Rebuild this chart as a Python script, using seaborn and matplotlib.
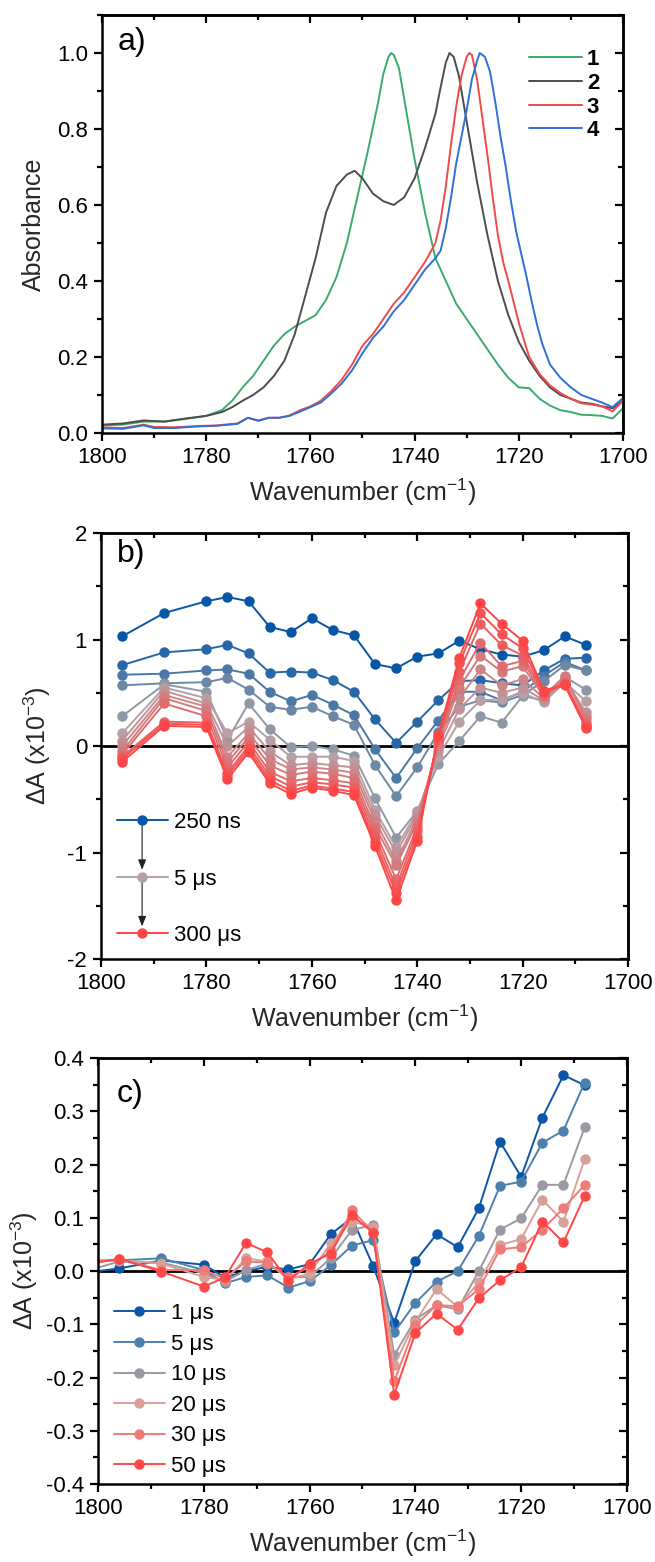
import numpy as np
import pandas as pd
import matplotlib
matplotlib.use("Agg")
import matplotlib.pyplot as plt
from matplotlib.lines import Line2D
from matplotlib.ticker import MultipleLocator, FormatStrFormatter
import seaborn as sns

# ---------------- panel a: normalised FTIR spectra ----------------
wn_1 = [1800, 1796, 1792, 1788, 1784, 1780, 1777, 1775, 1773, 1771, 1769, 1767, 1765, 1763,
        1761, 1759, 1757, 1755, 1753, 1751, 1749, 1747, 1746, 1745, 1744.5, 1744, 1743, 1742,
        1740, 1738, 1736, 1734, 1732, 1730, 1728, 1726, 1724, 1722, 1720, 1718, 1716, 1714,
        1712, 1710, 1708, 1706, 1704, 1702, 1700]
abs_1 = [0.020, 0.022, 0.030, 0.030, 0.037, 0.045, 0.060, 0.085, 0.120, 0.150, 0.190, 0.230,
         0.260, 0.280, 0.295, 0.310, 0.350, 0.410, 0.500, 0.620, 0.740, 0.870, 0.945, 0.990,
         1.000, 0.995, 0.960, 0.880, 0.720, 0.580, 0.460, 0.400, 0.340, 0.300, 0.260, 0.220,
         0.180, 0.145, 0.120, 0.118, 0.090, 0.072, 0.060, 0.055, 0.048, 0.047, 0.045, 0.038,
         0.065]

wn_2 = [1800, 1796, 1792, 1788, 1784, 1780, 1777, 1775, 1773, 1771, 1769, 1767, 1765, 1763,
        1761, 1759, 1757, 1755, 1753, 1751.5, 1750, 1748, 1746, 1744, 1742, 1740, 1738, 1736,
        1735, 1734, 1733.3, 1732.5, 1731.5, 1730, 1728, 1726, 1724, 1722, 1720, 1718, 1716,
        1714, 1712, 1710, 1708, 1706, 1704, 1702, 1700]
abs_2 = [0.022, 0.025, 0.033, 0.030, 0.038, 0.045, 0.055, 0.068, 0.085, 0.100, 0.120, 0.150,
         0.190, 0.260, 0.360, 0.460, 0.580, 0.650, 0.680, 0.690, 0.670, 0.630, 0.610, 0.600,
         0.620, 0.670, 0.750, 0.840, 0.910, 0.975, 1.000, 0.990, 0.940, 0.820, 0.660, 0.520,
         0.400, 0.310, 0.240, 0.190, 0.150, 0.120, 0.100, 0.090, 0.080, 0.077, 0.070, 0.065,
         0.085]

wn_3 = [1800, 1796, 1792, 1790, 1786, 1782, 1778, 1774, 1772, 1770, 1768, 1766, 1764, 1762,
        1760, 1758, 1756, 1754, 1752, 1750, 1748, 1746, 1744, 1742, 1740, 1738, 1736, 1735,
        1734, 1733, 1732, 1731, 1730, 1729.5, 1729, 1728, 1727, 1726, 1725, 1724, 1723, 1722,
        1720, 1718, 1716, 1714, 1712, 1710, 1708, 1706, 1704, 1702, 1700]
abs_3 = [0.015, 0.013, 0.022, 0.016, 0.015, 0.018, 0.020, 0.025, 0.040, 0.033, 0.040, 0.040,
         0.046, 0.060, 0.070, 0.085, 0.110, 0.140, 0.180, 0.230, 0.260, 0.300, 0.340, 0.370,
         0.410, 0.450, 0.500, 0.560, 0.650, 0.760, 0.860, 0.940, 0.990, 1.000, 0.995, 0.930,
         0.830, 0.730, 0.620, 0.520, 0.450, 0.400, 0.290, 0.200, 0.155, 0.125, 0.105, 0.090,
         0.078, 0.075, 0.070, 0.057, 0.085]

wn_4 = [1800, 1796, 1792, 1790, 1786, 1782, 1778, 1774, 1772, 1770, 1768, 1766, 1764, 1762,
        1760, 1758, 1756, 1754, 1752, 1750, 1748, 1746, 1744, 1742, 1740, 1738, 1736, 1735,
        1734, 1733, 1732, 1731, 1730, 1729, 1728, 1727.5, 1726.5, 1725.5, 1724.5, 1723.5,
        1722.5, 1721.5, 1720.5, 1719.5, 1718.5, 1717.5, 1716.5, 1715.5, 1714, 1712, 1710,
        1708, 1706, 1704, 1702, 1700]
abs_4 = [0.012, 0.011, 0.020, 0.013, 0.013, 0.017, 0.019, 0.024, 0.040, 0.032, 0.040, 0.040,
         0.045, 0.056, 0.068, 0.080, 0.104, 0.130, 0.165, 0.210, 0.250, 0.280, 0.320, 0.350,
         0.390, 0.430, 0.460, 0.480, 0.540, 0.620, 0.710, 0.780, 0.850, 0.930, 0.980, 1.000,
         0.990, 0.950, 0.870, 0.780, 0.700, 0.610, 0.530, 0.470, 0.410, 0.345, 0.285, 0.235,
         0.180, 0.145, 0.120, 0.100, 0.090, 0.080, 0.068, 0.092]

samples = ["1", "2", "3", "4"]
sample_colors = ["#3bab6b", "#4d4d4d", "#f04a4a", "#2f6fd8"]

# ---------------- panel b: TRIR, 250 ns -> 300 us ----------------
wn_b = [1796, 1788, 1780, 1776, 1772, 1768, 1764, 1760, 1756, 1752, 1748, 1744, 1740, 1736,
        1732, 1728, 1724, 1720, 1716, 1712, 1708]
b_01 = [1.03, 1.25, 1.36, 1.40, 1.36, 1.12, 1.07, 1.20, 1.09, 1.04, 0.77, 0.73, 0.84, 0.87, 0.99, 0.91, 0.86, 0.84, 0.90, 1.03, 0.95]
b_02 = [0.76, 0.88, 0.91, 0.95, 0.87, 0.69, 0.70, 0.69, 0.62, 0.51, 0.25, 0.03, 0.23, 0.43, 0.61, 0.62, 0.59, 0.57, 0.71, 0.82, 0.83]
b_03 = [0.67, 0.68, 0.71, 0.72, 0.68, 0.51, 0.42, 0.48, 0.39, 0.29, -0.03, -0.30, -0.02, 0.24, 0.51, 0.51, 0.43, 0.51, 0.66, 0.79, 0.71]
b_04 = [0.57, 0.59, 0.60, 0.64, 0.53, 0.37, 0.34, 0.37, 0.28, 0.20, -0.18, -0.47, -0.20, 0.13, 0.37, 0.43, 0.41, 0.48, 0.61, 0.76, 0.71]
b_05 = [0.28, 0.58, 0.51, 0.06, 0.40, 0.16, -0.01, 0.00, -0.03, -0.09, -0.49, -0.86, -0.61, -0.17, 0.05, 0.28, 0.22, 0.47, 0.43, 0.65, 0.53]
b_06 = [0.12, 0.55, 0.45, 0.12, 0.23, 0.06, -0.10, -0.10, -0.10, -0.14, -0.60, -0.95, -0.62, -0.10, 0.23, 0.43, 0.44, 0.50, 0.41, 0.60, 0.42]
b_07 = [0.05, 0.52, 0.40, 0.00, 0.18, -0.05, -0.18, -0.16, -0.18, -0.20, -0.65, -1.00, -0.65, -0.05, 0.35, 0.55, 0.50, 0.55, 0.43, 0.62, 0.32]
b_08 = [0.00, 0.48, 0.37, -0.10, 0.12, -0.12, -0.22, -0.20, -0.22, -0.25, -0.70, -1.08, -0.68, 0.00, 0.45, 0.72, 0.57, 0.63, 0.45, 0.64, 0.28]
b_09 = [-0.05, 0.45, 0.33, -0.15, 0.08, -0.18, -0.27, -0.24, -0.26, -0.30, -0.76, -1.12, -0.72, 0.03, 0.55, 0.85, 0.70, 0.75, 0.47, 0.66, 0.25]
b_10 = [-0.08, 0.40, 0.28, -0.20, 0.04, -0.24, -0.33, -0.30, -0.32, -0.35, -0.80, -1.25, -0.76, 0.05, 0.62, 0.97, 0.75, 0.80, 0.48, 0.60, 0.22]
b_11 = [-0.10, 0.23, 0.22, -0.25, 0.00, -0.28, -0.38, -0.34, -0.36, -0.39, -0.85, -1.32, -0.80, 0.07, 0.70, 1.15, 0.95, 0.85, 0.50, 0.58, 0.20]
b_12 = [-0.12, 0.21, 0.20, -0.28, -0.03, -0.32, -0.42, -0.37, -0.40, -0.43, -0.90, -1.38, -0.85, 0.09, 0.78, 1.25, 1.05, 0.92, 0.51, 0.57, 0.18]
b_13 = [-0.15, 0.19, 0.18, -0.31, -0.06, -0.35, -0.45, -0.39, -0.42, -0.46, -0.94, -1.45, -0.89, 0.10, 0.83, 1.34, 1.15, 0.99, 0.52, 0.58, 0.17]
b_traces = [b_01, b_02, b_03, b_04, b_05, b_06, b_07, b_08, b_09, b_10, b_11, b_12, b_13]
b_legend_idx = [0, 5, 12]
b_legend_labels = ["250 ns", "5 \u03bcs", "300 \u03bcs"]

# ---------------- panel c: TRIR, 1 us -> 50 us ----------------
wn_c = [1804, 1796, 1788, 1780, 1776, 1772, 1768, 1764, 1760, 1756, 1752, 1748, 1744, 1740,
        1736, 1732, 1728, 1724, 1720, 1716, 1712, 1708]
c_1us = [-0.005, 0.005, 0.020, 0.012, -0.012, 0.000, 0.008, 0.003, 0.013, 0.069, 0.100, 0.010, -0.097, 0.019, 0.069, 0.045, 0.118, 0.243, 0.177, 0.288, 0.368, 0.349]
c_5us = [0.020, 0.020, 0.024, 0.002, -0.023, -0.011, -0.008, -0.031, -0.019, 0.011, 0.048, 0.058, -0.115, -0.060, -0.020, 0.000, 0.066, 0.160, 0.168, 0.241, 0.264, 0.354]
c_10us = [-0.005, 0.018, 0.016, -0.004, -0.020, 0.002, 0.014, -0.012, -0.011, 0.024, 0.077, 0.087, -0.158, -0.091, -0.064, -0.072, 0.000, 0.078, 0.099, 0.162, 0.162, 0.270]
c_20us = [0.020, 0.020, 0.014, -0.011, -0.017, 0.024, 0.018, -0.016, -0.004, 0.052, 0.093, 0.083, -0.177, -0.095, -0.034, -0.067, -0.021, 0.049, 0.060, 0.134, 0.093, 0.210]
c_30us = [0.012, 0.022, 0.002, 0.002, -0.014, 0.018, 0.016, -0.012, 0.008, 0.038, 0.114, 0.074, -0.207, -0.102, -0.064, -0.066, -0.034, 0.041, 0.045, 0.078, 0.118, 0.162]
c_50us = [0.010, 0.023, -0.001, -0.029, -0.012, 0.053, 0.035, -0.018, 0.014, 0.033, 0.105, 0.072, -0.232, -0.116, -0.080, -0.110, -0.051, -0.017, 0.007, 0.093, 0.054, 0.141]
c_traces = [c_1us, c_5us, c_10us, c_20us, c_30us, c_50us]
c_labels = ["1 \u03bcs", "5 \u03bcs", "10 \u03bcs", "20 \u03bcs", "30 \u03bcs", "50 \u03bcs"]
c_colors = ["#0b56a8", "#4e80ae", "#9b98a2", "#d9a097", "#ee7b77", "#ff4747"]

# ---------------- style ----------------
sns.set_theme(style="ticks")
plt.rcParams["font.family"] = ["Liberation Sans", "DejaVu Sans"]
plt.rcParams["mathtext.fontset"] = "custom"
plt.rcParams["mathtext.rm"] = "Liberation Sans"
plt.rcParams["mathtext.it"] = "Liberation Sans:italic"
plt.rcParams["axes.unicode_minus"] = False
plt.rcParams["axes.linewidth"] = 1.8
plt.rcParams["axes.edgecolor"] = "black"
plt.rcParams["text.color"] = "black"
plt.rcParams["xtick.color"] = "black"
plt.rcParams["ytick.color"] = "black"

b_pal = sns.blend_palette(["#0656a8", "#8f98a4"], 5) + sns.blend_palette(["#b6a0a5", "#ff4646"], 8)

fig = plt.figure(figsize=(6.55, 15.62), dpi=100)
ax_a = fig.add_axes([0.1557, 0.7228, 0.7954, 0.2676])
ax_b = fig.add_axes([0.1542, 0.3860, 0.8046, 0.2727])
ax_c = fig.add_axes([0.1496, 0.0499, 0.8076, 0.2727])


def style_axes(ax, ylim, ymaj, ymin, yfmt):
    ax.set_xlim(1800, 1700)
    ax.set_ylim(*ylim)
    ax.xaxis.set_major_locator(MultipleLocator(20))
    ax.xaxis.set_minor_locator(MultipleLocator(10))
    ax.yaxis.set_major_locator(MultipleLocator(ymaj))
    ax.yaxis.set_minor_locator(MultipleLocator(ymin))
    ax.yaxis.set_major_formatter(FormatStrFormatter(yfmt))
    ax.tick_params(which="both", direction="out", width=1.6, labelsize=16, pad=4)
    ax.tick_params(which="major", length=6)
    ax.tick_params(which="minor", length=3.5)
    for sp in ax.spines.values():
        sp.set_visible(True)
        sp.set_linewidth(1.8)
    # mirrored ticks pointing inwards on top and right
    top = ax.secondary_xaxis("top")
    top.xaxis.set_major_locator(MultipleLocator(20))
    top.xaxis.set_minor_locator(MultipleLocator(10))
    top.tick_params(which="both", direction="in", width=1.6, labeltop=False)
    top.tick_params(which="major", length=6)
    top.tick_params(which="minor", length=3.5)
    right = ax.secondary_yaxis("right")
    right.yaxis.set_major_locator(MultipleLocator(ymaj))
    right.yaxis.set_minor_locator(MultipleLocator(ymin))
    right.tick_params(which="both", direction="in", width=1.6, labelright=False)
    right.tick_params(which="major", length=6)
    right.tick_params(which="minor", length=3.5)
    ax.set_xlabel("Wavenumber (cm$^{-1}$)", fontsize=18, labelpad=6)


# ---- a) ----
df_a = pd.concat([
    pd.DataFrame({"wn": w, "A": a, "sample": s})
    for w, a, s in zip([wn_1, wn_2, wn_3, wn_4], [abs_1, abs_2, abs_3, abs_4], samples)
])
sns.lineplot(data=df_a, x="wn", y="A", hue="sample", hue_order=samples,
             palette=dict(zip(samples, sample_colors)), estimator=None, lw=1.4, ax=ax_a)
style_axes(ax_a, (0, 1.1), 0.2, 0.1, "%.1f")
ax_a.set_ylabel("Absorbance", fontsize=18, labelpad=8)
h, l = ax_a.get_legend_handles_labels()
ax_a.legend(h, l, loc="upper right", bbox_to_anchor=(0.98, 0.95), frameon=False,
            prop={"weight": "bold", "size": 16}, handlelength=2.4, handletextpad=0.2,
            labelspacing=0.12, borderaxespad=0.2)
ax_a.text(0.03, 0.935, "a)", transform=ax_a.transAxes, fontsize=23, va="center", ha="left")

# ---- b) ----
df_b = pd.concat([
    pd.DataFrame({"wn": wn_b, "dA": tr, "trace": i}) for i, tr in enumerate(b_traces)
])
ax_b.axhline(0, color="black", lw=2.0, zorder=1)
sns.lineplot(data=df_b, x="wn", y="dA", hue="trace", palette=b_pal, estimator=None,
             marker="o", markersize=7.5, markeredgewidth=0, lw=1.4, legend=False, ax=ax_b)
style_axes(ax_b, (-2, 2), 1, 0.5, "%d")
ax_b.set_ylabel("\u0394A (x10$^{-3}$)", fontsize=18, labelpad=10)
b_handles = [Line2D([], [], color=b_pal[i], marker="o", ms=7.5, mew=0, lw=1.4) for i in b_legend_idx]
leg_b = ax_b.legend(b_handles, b_legend_labels, loc="lower left", bbox_to_anchor=(0.0, -0.006),
                    frameon=False, fontsize=16, handlelength=2.3, handletextpad=0.3,
                    labelspacing=1.6, borderaxespad=0.3)
ax_b.text(0.03, 0.95, "b)", transform=ax_b.transAxes, fontsize=23, va="center", ha="left")

# ---- c) ----
df_c = pd.concat([
    pd.DataFrame({"wn": wn_c, "dA": tr, "delay": lab}) for tr, lab in zip(c_traces, c_labels)
])
ax_c.axhline(0, color="black", lw=2.0, zorder=1)
sns.lineplot(data=df_c, x="wn", y="dA", hue="delay", hue_order=c_labels,
             palette=dict(zip(c_labels, c_colors)), estimator=None, marker="o",
             markersize=7.5, markeredgewidth=0, lw=1.4, ax=ax_c)
style_axes(ax_c, (-0.4, 0.4), 0.1, 0.05, "%.1f")
ax_c.set_ylabel("\u0394A (x10$^{-3}$)", fontsize=18, labelpad=4)
h, l = ax_c.get_legend_handles_labels()
ax_c.legend(h, l, loc="lower left", bbox_to_anchor=(0.0, -0.02), frameon=False, fontsize=16,
            handlelength=2.3, handletextpad=0.3, labelspacing=0.43, borderaxespad=0.3)
ax_c.text(0.035, 0.915, "c)", transform=ax_c.transAxes, fontsize=23, va="center", ha="left")

# arrows between the legend entries of panel b
fig.canvas.draw()
renderer = fig.canvas.get_renderer()
centers = []
for hd in leg_b.legend_handles:
    bb = hd.get_window_extent(renderer)
    centers.append(((bb.x0 + bb.x1) / 2, (bb.y0 + bb.y1) / 2))
for (x0, y0), (x1, y1) in zip(centers[:-1], centers[1:]):
    ax_b.annotate("", xy=(x1, y1 + 7), xytext=(x0, y0 - 5), xycoords="figure pixels",
                  textcoords="figure pixels",
                  arrowprops=dict(arrowstyle="-|>,head_length=0.5,head_width=0.2",
                                  color="#222222", lw=0.8, shrinkA=0, shrinkB=0))

fig.savefig("out.png", dpi=100)
